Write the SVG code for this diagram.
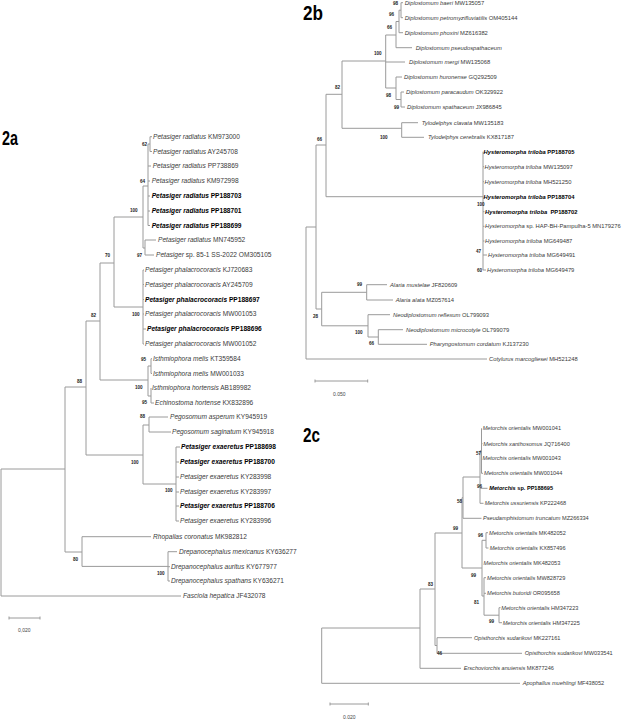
<svg xmlns="http://www.w3.org/2000/svg" width="640" height="719" viewBox="0 0 640 719">
<style>
.t{font-family:"Liberation Sans",Arial,sans-serif;fill:#3a3a3a}
.a{font-size:6.6px}.b{font-size:5.8px}.c{font-size:5.6px}
.i{font-style:italic}
.bd{font-weight:bold;fill:#000}
.bs{font-family:"Liberation Sans",Arial,sans-serif;font-size:4.6px;font-weight:bold;fill:#222}
.pl{font-family:"Liberation Sans",Arial,sans-serif;font-size:21px;font-weight:bold;fill:#000}
.ln{fill:none;stroke:#9a9a9a;stroke-width:1}
.sc{font-family:"Liberation Sans",Arial,sans-serif;font-size:5px;fill:#444}
</style>
<rect width="640" height="719" fill="#fff"/>

<g id="panel-labels">
<text class="pl" x="2" y="145" textLength="16" lengthAdjust="spacingAndGlyphs">2a</text>
<text class="pl" x="303" y="20" textLength="20" lengthAdjust="spacingAndGlyphs">2b</text>
<text class="pl" x="303" y="442" textLength="17" lengthAdjust="spacingAndGlyphs">2c</text>
</g>

<g id="connectors">
<path class="ln" d="
M1 469V596M1 469H65M1 596H181
M65 387V552M65 387H86M65 552H82
M86 321V455M86 321H100M86 455H143
M100 263V380M100 263H114M100 380H148
M114 217V307M114 217H143M114 307H143
M143 186V248M143 186H148M143 248H145
M148 144V225.5M148 144H150M148 166H151M148 181H150M148 196H150M148 211H150M148 225.5H150
M150 136.7V151.5M150 136.7H152M150 151.5H152
M145 240V255M145 240H156M145 255H154
M143 270V344M143 270H144M143 284.5H144M143 299.5H144M143 314H144M143 329H146M143 344H144
M148 366V396M148 366H151M148 396H151
M151 358.7V373.5M151 358.7H152M151 373.5H152
M151 388V403M151 403H154
M143 425V484M143 425H149M143 484H176
M149 417V432M149 417H168M149 432H171
M176 447V521M176 447H180M176 462H179M176 477H179M176 492H179M176 506H179M176 521H179
M82 536.7V566.4M82 536.7H151M82 566.4H168
M168 551.7V581M168 551.7H177M168 566.7H170M168 581H170
"/>
<path class="ln" d="M9 618H40M9 616.5V619.5M40 616.5V619.5"/>

<path class="ln" d="
M306 227V359M306 227H316M306 359H487
M316 145V309M316 145H326M316 309H321.7
M326 94.3V196.7M326 94.3H342M326 196.7H483
M342 61V128.3M342 61H385.7M342 128.3H401.7
M385.7 35V88M385.7 35H396M385.7 62H405M385.7 88H396
M396 21.5V47.7M396 21.5H399M396 47.7H412
M399 10.2V32.7M399 10.2H401M399 32.7H403
M401 2.7V17.7M401 2.7H403M401 17.7H403
M396 77V99.5M396 77H402M396 99.5H401
M401 92V107M401 92H404M401 107H405
M401.7 122.7V137.3M401.7 122.7H418M401.7 137.3H424
M483 151.7V270M483 166.7H484M483 181.7H484M483 211.7H484.5M483 226.3H484.5M483 241H484.5M483 255H487M483 270H486
M321.7 292.3V325.8M321.7 292.3H366.7M321.7 325.8H368
M366.7 284.7V300M366.7 284.7H387M366.7 300H393
M368 314.7V337M368 314.7H390M368 337H378.3
M378.3 329.7V344.3M378.3 329.7H403M378.3 344.3H427
"/>
<path class="ln" d="M315 381H367.7M315 379.5V382.5M367.7 379.5V382.5"/>

<path class="ln" d="
M321.7 628V683.3M321.7 628H420M321.7 683.3H520
M420 589V668.3M420 589H435M420 668.3H461
M435 533V645.5M435 533H462M435 645.5H437
M437 637.7V653.3M437 637.7H472M437 653.3H522
M462 497.7V568M462 497.7H463M462 568H482
M463 477V518.3M463 477H480M463 518.3H481.5
M480 450.8V503.3M480 450.8H481.5M480 488.3H487.5M480 503.3H483.5
M481.5 428.3V473.3M481.5 443.7H482.5M481.5 473.3H483
M482 540.3V596M482 540.3H486M482 596H484
M486 532.7V548M486 532.7H488M486 548H488.5
M484 577.7V615.2M484 577.7H486M484 593.3H486M484 615.2H499
M499 607.7V622.7M499 607.7H500.5M499 622.7H502
"/>
<path class="ln" d="M330 704H368.3M330 702.5V705.5M368.3 702.5V705.5"/>
</g>

<g id="bootstrap">
<text class="bs" x="142" y="146">62</text>
<text class="bs" x="140" y="183">64</text>
<text class="bs" x="130" y="212">100</text>
<text class="bs" x="137" y="257">97</text>
<text class="bs" x="105" y="257">70</text>
<text class="bs" x="132" y="316">100</text>
<text class="bs" x="91" y="317">82</text>
<text class="bs" x="141" y="361">95</text>
<text class="bs" x="135" y="389">100</text>
<text class="bs" x="142" y="404">95</text>
<text class="bs" x="77" y="383">88</text>
<text class="bs" x="140" y="418">88</text>
<text class="bs" x="131" y="464">100</text>
<text class="bs" x="165" y="492">100</text>
<text class="bs" x="73" y="561">80</text>
<text class="bs" x="157" y="575">100</text>

<text class="bs" x="393" y="5">98</text>
<text class="bs" x="389" y="16">96</text>
<text class="bs" x="387" y="29">66</text>
<text class="bs" x="374" y="55">100</text>
<text class="bs" x="335" y="89">82</text>
<text class="bs" x="386" y="97">98</text>
<text class="bs" x="394" y="109">99</text>
<text class="bs" x="380" y="139">100</text>
<text class="bs" x="317" y="141">66</text>
<text class="bs" x="477" y="206">100</text>
<text class="bs" x="476" y="253">47</text>
<text class="bs" x="477" y="272">60</text>
<text class="bs" x="357" y="286">99</text>
<text class="bs" x="313" y="318">28</text>
<text class="bs" x="355" y="334">100</text>
<text class="bs" x="369" y="345">66</text>

<text class="bs" x="476" y="455">57</text>
<text class="bs" x="477" y="488">96</text>
<text class="bs" x="457" y="503">58</text>
<text class="bs" x="453" y="530">99</text>
<text class="bs" x="478" y="537">96</text>
<text class="bs" x="428" y="586">83</text>
<text class="bs" x="471" y="577">99</text>
<text class="bs" x="474" y="604">81</text>
<text class="bs" x="489" y="623">99</text>
<text class="bs" x="437" y="655">46</text>
</g>

<g id="scale-labels">
<text class="sc" x="18" y="632">0,020</text>
<text class="sc" x="333" y="396">0.050</text>
<text class="sc" x="343" y="718.5">0,020</text>
</g>

<g id="tree-2a">
<g id="a-KM973000"><text class="t a" x="153" y="139.1"><tspan class="i">Petasiger radiatus</tspan> KM973000</text></g>
<g id="a-AY245708"><text class="t a" x="153" y="153.9"><tspan class="i">Petasiger radiatus</tspan> AY245708</text></g>
<g id="a-PP738869"><text class="t a" x="152.7" y="168.4"><tspan class="i">Petasiger radiatus</tspan> PP738869</text></g>
<g id="a-KM972998"><text class="t a" x="151.7" y="183.4"><tspan class="i">Petasiger radiatus</tspan> KM972998</text></g>
<g id="a-PP188703"><text class="t a bd" x="151.7" y="198.4"><tspan class="i">Petasiger radiatus</tspan> PP188703</text></g>
<g id="a-PP188701"><text class="t a bd" x="151.7" y="213.4"><tspan class="i">Petasiger radiatus</tspan> PP188701</text></g>
<g id="a-PP188699"><text class="t a bd" x="151.7" y="227.9"><tspan class="i">Petasiger radiatus</tspan> PP188699</text></g>
<g id="a-MN745952"><text class="t a" x="158" y="242.4"><tspan class="i">Petasiger radiatus</tspan> MN745952</text></g>
<g id="a-OM305105"><text class="t a" x="156" y="257.4"><tspan class="i">Petasiger</tspan> sp. 85-1 SS-2022 OM305105</text></g>
<g id="a-KJ720683"><text class="t a" x="145" y="272.4"><tspan class="i">Petasiger phalacrocoracis</tspan> KJ720683</text></g>
<g id="a-AY245709"><text class="t a" x="145" y="286.9"><tspan class="i">Petasiger phalacrocoracis</tspan> AY245709</text></g>
<g id="a-PP188697"><text class="t a bd" x="145" y="301.9"><tspan class="i">Petasiger phalacrocoracis</tspan> PP188697</text></g>
<g id="a-MW001053"><text class="t a" x="145" y="316.4"><tspan class="i">Petasiger phalacrocoracis</tspan> MW001053</text></g>
<g id="a-PP188696"><text class="t a bd" x="147" y="331.4"><tspan class="i">Petasiger phalacrocoracis</tspan> PP188696</text></g>
<g id="a-MW001052"><text class="t a" x="145" y="346.4"><tspan class="i">Petasiger phalacrocoracis</tspan> MW001052</text></g>
<g id="a-KT359584"><text class="t a" x="153" y="361.1"><tspan class="i">Isthmiophora melis</tspan> KT359584</text></g>
<g id="a-MW001033"><text class="t a" x="153" y="375.9"><tspan class="i">Isthmiophora melis</tspan> MW001033</text></g>
<g id="a-AB189982"><text class="t a" x="152" y="390.4"><tspan class="i">Isthmiophora hortensis</tspan> AB189982</text></g>
<g id="a-KX832896"><text class="t a" x="155" y="405.4"><tspan class="i">Echinostoma hortense</tspan> KX832896</text></g>
<g id="a-KY945919"><text class="t a" x="170" y="419.4"><tspan class="i">Pegosomum asperum</tspan> KY945919</text></g>
<g id="a-KY945918"><text class="t a" x="172" y="434.4"><tspan class="i">Pegosomum saginatum</tspan> KY945918</text></g>
<g id="a-PP188698"><text class="t a bd" x="181" y="449.4"><tspan class="i">Petasiger exaeretus</tspan> PP188698</text></g>
<g id="a-PP188700"><text class="t a bd" x="180" y="464.4"><tspan class="i">Petasiger exaeretus</tspan> PP188700</text></g>
<g id="a-KY283998"><text class="t a" x="180" y="479.4"><tspan class="i">Petasiger exaeretus</tspan> KY283998</text></g>
<g id="a-KY283997"><text class="t a" x="180" y="494.4"><tspan class="i">Petasiger exaeretus</tspan> KY283997</text></g>
<g id="a-PP188706"><text class="t a bd" x="180" y="508.4"><tspan class="i">Petasiger exaeretus</tspan> PP188706</text></g>
<g id="a-KY283996"><text class="t a" x="180" y="523.4"><tspan class="i">Petasiger exaeretus</tspan> KY283996</text></g>
<g id="a-MK982812"><text class="t a" x="153" y="539.1"><tspan class="i">Rhopalias coronatus</tspan> MK982812</text></g>
<g id="a-KY636277"><text class="t a" x="179" y="554.1"><tspan class="i">Drepanocephalus mexicanus</tspan> KY636277</text></g>
<g id="a-KY677977"><text class="t a" x="171" y="569.1"><tspan class="i">Drepanocephalus auritus</tspan> KY677977</text></g>
<g id="a-KY636271"><text class="t a" x="171" y="583.4"><tspan class="i">Drepanocephalus spathans</tspan> KY636271</text></g>
<g id="a-JF432078"><text class="t a" x="183" y="598.4"><tspan class="i">Fasciola hepatica</tspan> JF432078</text></g>
</g>

<g id="tree-2b">
<g id="b-MW135057"><text class="t b" x="404.7" y="4.8"><tspan class="i">Diplostomum baeri</tspan> MW135057</text></g>
<g id="b-OM405144"><text class="t b" x="404.7" y="19.8"><tspan class="i">Diplostomum petromyzifluviatilis</tspan> OM405144</text></g>
<g id="b-MZ616382"><text class="t b" x="404.7" y="34.8"><tspan class="i">Diplostomum phoxini</tspan> MZ616382</text></g>
<g id="b-pseudospathaceum"><text class="t b" x="415.7" y="49.8"><tspan class="i">Diplostomum pseudospathaceum</tspan></text></g>
<g id="b-MW135068"><text class="t b" x="409" y="64.1"><tspan class="i">Diplostomum mergi</tspan> MW135068</text></g>
<g id="b-GQ292509"><text class="t b" x="404" y="79.1"><tspan class="i">Diplostomum huronense</tspan> GQ292509</text></g>
<g id="b-OK329922"><text class="t b" x="406" y="94.1"><tspan class="i">Diplostomum paracaudum</tspan> OK329922</text></g>
<g id="b-JX986845"><text class="t b" x="407" y="109.1"><tspan class="i">Diplostomum spathaceum</tspan> JX986845</text></g>
<g id="b-MW135183"><text class="t b" x="421.7" y="124.8"><tspan class="i">Tylodelphys clavata</tspan> MW135183</text></g>
<g id="b-KX817187"><text class="t b" x="428" y="139.4"><tspan class="i">Tylodelphys cerebralis</tspan> KX817187</text></g>
<g id="b-PP188705"><text class="t b bd" x="483.5" y="153.8"><tspan class="i">Hysteromorpha triloba</tspan> PP188705</text></g>
<g id="b-MW135097"><text class="t b" x="484.5" y="168.8"><tspan class="i">Hysteromorpha triloba</tspan> MW135097</text></g>
<g id="b-MH521250"><text class="t b" x="484.5" y="183.8"><tspan class="i">Hysteromorpha triloba</tspan> MH521250</text></g>
<g id="b-PP188704"><text class="t b bd" x="483.5" y="198.8"><tspan class="i">Hysteromorpha triloba</tspan> PP188704</text></g>
<g id="b-PP188702"><text class="t b bd" x="485" y="213.8" xml:space="preserve"><tspan class="i">Hysteromorpha triloba</tspan>  PP188702</text></g>
<g id="b-MN179276"><text class="t b" x="485" y="228.4"><tspan class="i">Hysteromorpha</tspan> sp. HAP-BH-Pampulha-5 MN179276</text></g>
<g id="b-MG649487"><text class="t b" x="485" y="243.1"><tspan class="i">Hysteromorpha triloba</tspan> MG649487</text></g>
<g id="b-MG649491"><text class="t b" x="488" y="257.1"><tspan class="i">Hysteromorpha triloba</tspan> MG649491</text></g>
<g id="b-MG649479"><text class="t b" x="487" y="272.1"><tspan class="i">Hysteromorpha triloba</tspan> MG649479</text></g>
<g id="b-JF820609"><text class="t b" x="390" y="286.8"><tspan class="i">Alaria mustelae</tspan> JF820609</text></g>
<g id="b-MZ057614"><text class="t b" x="395.7" y="302.1"><tspan class="i">Alaria alata</tspan> MZ057614</text></g>
<g id="b-OL799093"><text class="t b" x="393" y="316.8"><tspan class="i">Neodiplostomum reflexum</tspan> OL799093</text></g>
<g id="b-OL799079"><text class="t b" x="406" y="331.8"><tspan class="i">Neodiplostomum microcotyle</tspan> OL799079</text></g>
<g id="b-KJ137230"><text class="t b" x="429.7" y="346.4"><tspan class="i">Pharyngostomum cordatum</tspan> KJ137230</text></g>
<g id="b-MH521248"><text class="t b" x="489" y="361.1"><tspan class="i">Cotylurus marcogliesei</tspan> MH521248</text></g>
</g>

<g id="tree-2c">
<g id="c-MW001041"><text class="t c" x="482.7" y="430.3"><tspan class="i">Metorchis orientalis</tspan> MW001041</text></g>
<g id="c-JQ716400"><text class="t c" x="483.3" y="445.7"><tspan class="i">Metorchis xanthosomus</tspan> JQ716400</text></g>
<g id="c-MW001043"><text class="t c" x="482.5" y="460.3"><tspan class="i">Metorchis orientalis</tspan> MW001043</text></g>
<g id="c-MW001044"><text class="t c" x="484" y="475.3"><tspan class="i">Metorchis orientalis</tspan> MW001044</text></g>
<g id="c-PP188695"><text class="t c bd" x="489.3" y="490.3"><tspan class="i">Metorchis</tspan> sp. PP188695</text></g>
<g id="c-KP222468"><text class="t c" x="484.7" y="505.3"><tspan class="i">Metorchis ussuriensis</tspan> KP222468</text></g>
<g id="c-MZ266334"><text class="t c" x="483" y="520.3"><tspan class="i">Pseudamphistomum truncatum</tspan> MZ266334</text></g>
<g id="c-MK482052"><text class="t c" x="489" y="534.7"><tspan class="i">Metorchis orientalis</tspan> MK482052</text></g>
<g id="c-KX857496"><text class="t c" x="489.7" y="550"><tspan class="i">Metorchis orientalis</tspan> KX857496</text></g>
<g id="c-MK482053"><text class="t c" x="483.5" y="565.3"><tspan class="i">Metorchis orientalis</tspan> MK482053</text></g>
<g id="c-MW828729"><text class="t c" x="487" y="579.7"><tspan class="i">Metorchis orientalis</tspan> MW828729</text></g>
<g id="c-OR095658"><text class="t c" x="487" y="595.3"><tspan class="i">Metorchis butoridi</tspan> OR095658</text></g>
<g id="c-HM347223"><text class="t c" x="501.3" y="609.7"><tspan class="i">Metorchis orientalis</tspan> HM347223</text></g>
<g id="c-HM347225"><text class="t c" x="502.7" y="624.7"><tspan class="i">Metorchis orientalis</tspan> HM347225</text></g>
<g id="c-MK227161"><text class="t c" x="474" y="639.7"><tspan class="i">Opisthorchis sudarikovi</tspan> MK227161</text></g>
<g id="c-MW033541"><text class="t c" x="524.7" y="655.3"><tspan class="i">Opisthorchis sudarikovi</tspan> MW033541</text></g>
<g id="c-MK877246"><text class="t c" x="463.7" y="670.3"><tspan class="i">Erschoviorchis anuiensis</tspan> MK877246</text></g>
<g id="c-MF438052"><text class="t c" x="522.7" y="685.3"><tspan class="i">Apophallus muehlingi</tspan> MF438052</text></g>
</g>
</svg>
